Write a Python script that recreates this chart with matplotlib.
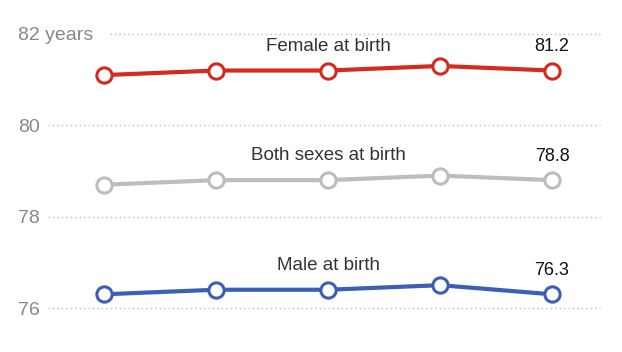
import matplotlib
matplotlib.use("Agg")
import matplotlib.pyplot as plt

years = [2010, 2011, 2012, 2013, 2014]
female = [81.1, 81.2, 81.2, 81.3, 81.2]
both = [78.7, 78.8, 78.8, 78.9, 78.8]
male = [76.3, 76.4, 76.4, 76.5, 76.3]
series_names = ["Female at birth", "Both sexes at birth", "Male at birth"]
series = [female, both, male]
colors = ["#d42a20", "#bdbdbd", "#3b5fb5"]
ytick_vals = [76, 78, 80, 82]
ytick_labels = ["76", "78", "80", "82 years"]

plt.rcParams['font.family'] = ['Liberation Sans', 'DejaVu Sans']

W, H = 622, 352
fig = plt.figure(figsize=(W / 100, H / 100), dpi=100)
ax_left, ax_right, ax_top, ax_bot = 45, 602, 20, 340
ax = fig.add_axes([ax_left / W, 1 - ax_bot / H, (ax_right - ax_left) / W, (ax_bot - ax_top) / H])

x = list(range(len(years)))
step = 112.0
x0px = 104
ax.set_xlim(-(x0px - ax_left) / step, 4 + (ax_right - (x0px + 4 * step)) / step)
ppu = 45.67
ax.set_ylim(76 - (ax_bot - 308) / ppu, 82 + (34 - ax_top) / ppu)

for s, c in zip(series, colors):
    ax.plot(x, s, color=c, lw=3.0, marker='o', ms=11, mfc='white', mec=c, mew=2.2,
            zorder=3, solid_capstyle='round')

for name, s in zip(series_names, series):
    ax.annotate(name, (x[2], s[2]), xytext=(0, 17.5), textcoords='offset points',
                ha='center', va='center', fontsize=13.5, color='#333333')
    ax.annotate(f"{s[-1]:.1f}", (x[-1], s[-1]), xytext=(0, 17), textcoords='offset points',
                ha='center', va='center', fontsize=13, color='#111111')

# gridlines
def px2x(p):
    return (p - x0px) / step
for v, lab in zip(ytick_vals, ytick_labels):
    start = 110 if 'years' in lab else 48
    ax.hlines(v, px2x(start), px2x(600), colors='#bbbbbb', linestyles=(0, (1, 2.2)), lw=1.0, zorder=1)

ax.set_yticks(ytick_vals)
ax.set_yticklabels(ytick_labels)
ax.tick_params(axis='y', length=0, pad=(ax_left - 18) * 0.72, labelsize=14, labelcolor='#888888')
for t in ax.get_yticklabels():
    t.set_ha('left')
ax.set_xticks([])
for sp in ax.spines.values():
    sp.set_visible(False)

fig.savefig("out.png", dpi=100)
